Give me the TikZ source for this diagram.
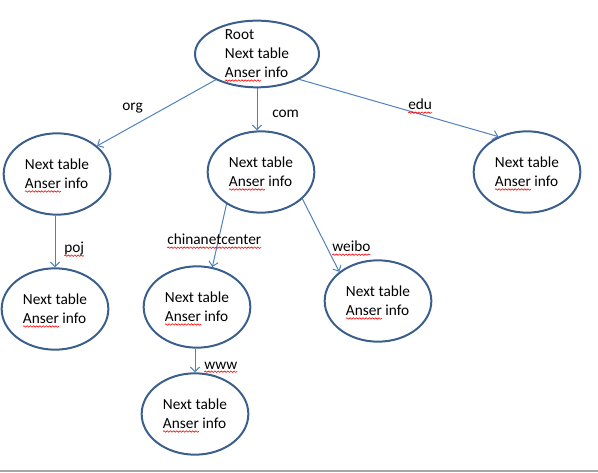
\documentclass[tikz,border=0pt]{standalone}
\usepackage{fontspec}
\setmainfont{Carlito}
\usetikzlibrary{shapes,arrows.meta,decorations.pathmorphing}
\pgfdeclarelayer{edgelayer}
\pgfdeclarelayer{nodelayer}
\pgfsetlayers{edgelayer,nodelayer,main}
\definecolor{rimblue}{HTML}{3A5F8D}
\definecolor{lineblue}{HTML}{4F81BD}
\newcommand{\spell}[1]{\tikz[baseline=(w.base)]{\node[shape=rectangle,draw=none,fill=none,inner sep=0pt,outer sep=0pt,minimum size=0pt,anchor=base] (w) {#1};\draw[overlay,red,line width=0.45pt,decorate,decoration={snake,amplitude=0.55pt,segment length=2.4pt}] ([yshift=-2pt]w.base west) -- ([yshift=-2pt]w.base east);}}
\tikzset{font=\fontsize{11.5}{14.3}\selectfont}
\tikzstyle{bubble}=[ellipse,draw=rimblue,line width=1.5pt,minimum width=80pt,minimum height=61pt,inner sep=0pt,align=left]
\tikzstyle{big bubble}=[bubble,minimum width=93pt,minimum height=50pt,inner ysep=-4pt]
\tikzstyle{tag}=[inner sep=0pt,anchor=base west]
\tikzstyle{link}=[draw=lineblue,line width=0.75pt,-{Straight Barb[length=3.5pt,width=7pt]}]

\begin{document}
\begin{tikzpicture}[x=0.75pt,y=-0.75pt]
	\useasboundingbox (0,0) rectangle (598,473);
	\begin{pgfonlayer}{nodelayer}
		\node [style=big bubble] (0) at (257, 54) {Root\\Next table\\\spell{Anser} info};
		\node [style=bubble] (1) at (57, 174) {Next table\\\spell{Anser} info};
		\node [style=bubble] (2) at (261, 172) {Next table\\\spell{Anser} info};
		\node [style=bubble] (3) at (527, 172) {Next table\\\spell{Anser} info};
		\node [style=bubble] (4) at (55, 309) {Next table\\\spell{Anser} info};
		\node [style=bubble] (5) at (197, 307) {Next table\\\spell{Anser} info};
		\node [style=bubble] (6) at (378, 301) {Next table\\\spell{Anser} info};
		\node [style=bubble] (7) at (195, 414) {Next table\\\spell{Anser} info};
		\node [style=tag] (8) at (122, 111) {org};
		\node [style=tag] (9) at (272, 118) {com};
		\node [style=tag] (10) at (408, 110) {\spell{edu}};
		\node [style=tag] (11) at (64, 253) {\spell{poj}};
		\node [style=tag] (12) at (167, 245) {\spell{chinanetcenter}};
		\node [style=tag] (13) at (332, 252) {\spell{weibo}};
		\node [style=tag] (14) at (204, 369) {\spell{www}};
	\end{pgfonlayer}
	\begin{pgfonlayer}{edgelayer}
		\draw [style=link] (0.212) to (1.35);
		\draw [style=link] (0.south) to (0.south |- 2.north);
		\draw [style=link] (0.-31) to (3.129);
		\draw [style=link] (4.north |- 1.south) to (4.north);
		\draw [style=link] (2.-137) to (5.69);
		\draw [style=link] (2.-33) to (6.143);
		\draw [style=link] (7.north |- 5.south) to (7.north);
	\end{pgfonlayer}
	\draw [black!35, line width=1.1pt] (0, 471) -- (598, 471);
\end{tikzpicture}
\end{document}
